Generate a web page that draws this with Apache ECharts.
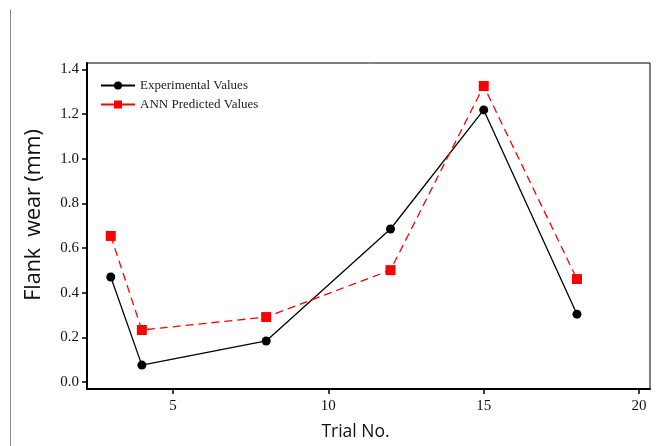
<!DOCTYPE html>
<html><head><meta charset="utf-8">
<script src="https://cdn.jsdelivr.net/npm/echarts@6/dist/echarts.min.js"></script>
<style>html,body{margin:0;padding:0;background:#fff}#c{width:659px;height:446px}</style>
</head><body><div id="c"></div>
<script>
const trials = [3, 4, 8, 12, 15, 18];
const experimental = [0.47, 0.076, 0.184, 0.685, 1.218, 0.304];
const annPredicted = [0.654, 0.233, 0.291, 0.501, 1.325, 0.461];
const xTicks = [5, 10, 15, 20];
const yTicks = [0, 0.2, 0.4, 0.6, 0.8, 1.0, 1.2, 1.4];

const chart = echarts.init(document.getElementById('c'), null, {renderer: 'canvas'});
const serif = '"Liberation Serif", "DejaVu Serif", serif';
const sans = '"Open Sans", "Noto Sans", sans-serif';
chart.setOption({
  animation: false,
  backgroundColor: '#fff',
  grid: {left: 87, top: 63, right: 9, bottom: 57, show: true, borderColor: '#000', borderWidth: 1, backgroundColor: 'transparent'},
  graphic: [{type: 'line', shape: {x1: 10.5, y1: 10, x2: 10.5, y2: 446}, style: {stroke: '#888', lineWidth: 1}}],
  legend: {
    left: 95, top: 74, orient: 'vertical', itemGap: 6, itemWidth: 34, itemHeight: 10,
    textStyle: {fontFamily: serif, fontSize: 13, color: '#222'},
    lineStyle: {type: 'solid'},
    data: ['Experimental Values', 'ANN Predicted Values']
  },
  xAxis: {
    type: 'value', min: 2.235, max: 20.35,
    name: 'Trial No.', nameLocation: 'middle', nameGap: 34,
    nameTextStyle: {fontFamily: sans, fontSize: 17.5, color: '#111', padding: [0, 26, 0, 0]},
    splitLine: {show: false},
    axisLine: {onZero: false, lineStyle: {color: '#000', width: 2}},
    axisTick: {show: true, length: 5, lineStyle: {color: '#000', width: 1.5}, customValues: xTicks},
    axisLabel: {customValues: xTicks, fontFamily: serif, fontSize: 15, color: '#111', margin: 10}
  },
  yAxis: {
    type: 'value', min: -0.031, max: 1.428,
    name: 'Flank  wear (mm)', nameLocation: 'middle', nameGap: 42,
    nameTextStyle: {fontFamily: sans, fontSize: 21.5, color: '#111', padding: [0, 0, 0, 22]},
    splitLine: {show: false},
    axisLine: {onZero: false, lineStyle: {color: '#000', width: 2}},
    axisTick: {show: true, length: 5, lineStyle: {color: '#000', width: 1.5}, customValues: yTicks},
    axisLabel: {customValues: yTicks, fontFamily: serif, fontSize: 15, color: '#111', margin: 8,
      formatter: v => v.toFixed(1)}
  },
  series: [
    {name: 'Experimental Values', type: 'line', data: trials.map((t, i) => [t, experimental[i]]),
     symbol: 'circle', symbolSize: 9, itemStyle: {color: '#000'}, lineStyle: {color: '#000', width: 1.3}},
    {name: 'ANN Predicted Values', type: 'line', data: trials.map((t, i) => [t, annPredicted[i]]),
     symbol: 'rect', symbolSize: 10, itemStyle: {color: '#f00'}, lineStyle: {color: '#f00', width: 1.3, type: [8, 5]}}
  ]
});
</script></body></html>
